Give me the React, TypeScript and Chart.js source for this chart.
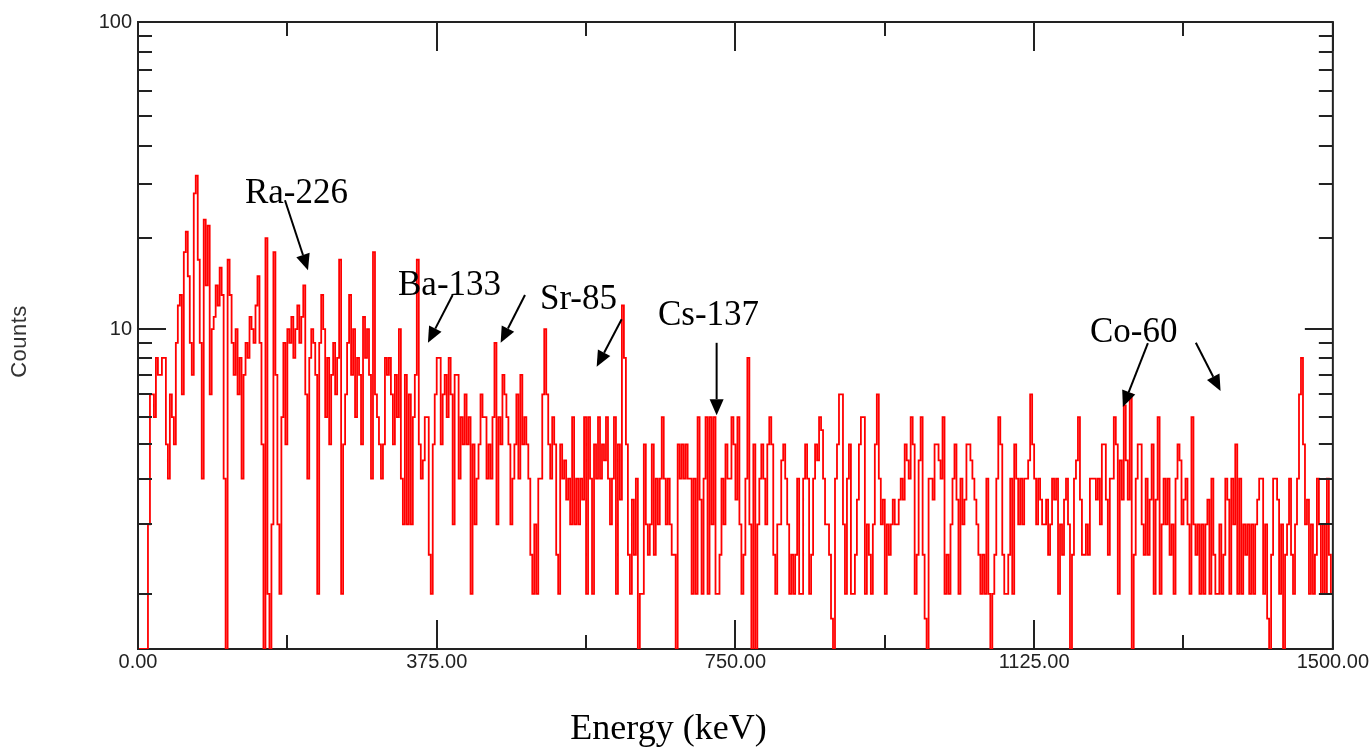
import React, { useEffect, useRef } from 'react';
import { Chart, LinearScale, registerables } from 'chart.js';

// ---------------- data ----------------
const BIN_KEV = 2.5;
const COUNTS: number[] = [
  0, 0, 0, 0, 0, 2, 6, 6, 5, 8,
  7, 7, 8, 8, 4, 3, 6, 5, 4, 9,
  12, 13, 6, 18, 21, 15, 9, 7, 28, 32,
  17, 9, 3, 23, 14, 22, 6, 10, 11, 14,
  12, 16, 13, 3, 0, 17, 13, 9, 7, 10,
  6, 8, 3, 7, 9, 8, 11, 10, 9, 12,
  15, 9, 4, 0, 20, 1, 0, 2, 18, 7,
  2, 1, 5, 9, 4, 10, 9, 11, 8, 10,
  12, 9, 11, 14, 6, 3, 8, 10, 9, 7,
  1, 9, 13, 10, 5, 8, 4, 7, 9, 6,
  8, 17, 1, 4, 6, 9, 13, 7, 10, 5,
  8, 7, 4, 11, 8, 10, 7, 3, 18, 6,
  5, 4, 3, 4, 8, 7, 8, 6, 4, 7,
  5, 10, 3, 2, 7, 2, 6, 2, 5, 7,
  17, 4, 3, 3.5, 5, 5, 1.5, 1, 4, 6,
  8, 8, 4, 6, 7, 5, 8, 6, 2, 7,
  7, 3, 5, 4, 6, 4, 5, 1, 4, 2,
  3, 4, 6, 5, 5, 3, 4, 3, 5, 9,
  2, 5, 4, 7, 6, 5, 4, 2, 3, 4,
  6, 3, 7, 4, 5, 4, 3, 1.5, 1, 2,
  1, 3, 3, 6, 10, 6, 4, 3, 5, 4,
  1.5, 1, 4, 3, 3.5, 2.5, 3, 2, 5, 2,
  3, 2, 3, 2.5, 5, 1, 5, 3, 1, 4,
  3, 5, 3, 4, 3.5, 5, 3, 2, 3, 5,
  1, 4, 2.5, 12, 8, 4, 1.5, 1, 2.5, 1.5,
  3, 0, 1, 1, 4, 2, 1.5, 2, 4, 1.5,
  3, 2, 3, 5, 3, 2, 3, 2, 1.5, 1.5,
  0, 4, 3, 4, 3, 4, 3, 3, 1, 3,
  1, 5, 2.5, 1, 3, 5, 1, 5, 2, 5,
  1, 1, 1.5, 3, 2, 4, 3, 3, 5, 4,
  2.5, 5, 2, 1, 1.5, 3, 8, 2, 0, 4,
  0, 2, 3, 4, 3, 2, 4, 5, 4, 1.5,
  1, 2, 2, 3.5, 4, 3, 2, 1, 1.5, 1,
  1.5, 3, 1, 1, 3, 4, 3, 1, 1.5, 3,
  4, 3.5, 5, 4.5, 3, 2, 2, 1.5, 0.75, 0,
  3, 4, 6, 6, 2, 1, 3, 4, 1, 1,
  1.5, 2.5, 4, 5, 5, 1, 2, 1.5, 1, 2,
  4, 6, 3, 2, 2.5, 1, 2, 1.5, 2, 2.5,
  2, 2, 2.5, 3, 2.5, 4, 3.5, 3, 5, 4,
  1, 1.5, 3.5, 5, 1.5, 0.75, 0, 3, 3, 2.5,
  4, 4, 3.5, 3, 5, 1, 1.5, 1, 2, 3,
  4, 2.5, 1, 3, 2, 2.5, 4, 4, 3.5, 3,
  2.5, 2, 1.5, 1, 1.5, 1, 3, 1, 0, 1,
  1.5, 3, 5, 4, 1.5, 1, 1, 1.5, 3, 1,
  4, 3, 2, 3, 2, 3, 3, 3.5, 6, 4,
  3, 2, 3, 2.5, 2, 2, 2.5, 1.5, 2, 3,
  2.5, 3, 1, 2, 1.5, 2.5, 3, 2, 0, 1.5,
  3, 3.5, 5, 2.5, 1.5, 1.5, 2, 1.5, 3, 3,
  3, 2.5, 3, 2, 4, 4, 2.5, 1.5, 3, 3,
  5, 4, 1, 3.5, 2.5, 5.5, 3.5, 2.5, 6, 0,
  1.5, 3, 4, 4, 2, 1.5, 3, 1.5, 2.5, 4,
  1, 2.5, 5, 1, 2, 3, 2, 3, 1.5, 2,
  1, 3, 4, 3.5, 2, 2.5, 3, 2, 1, 5,
  2, 1.5, 2, 1, 2, 1, 2, 2.5, 1, 3,
  1.5, 1, 1, 2, 1, 1.5, 3, 2.5, 1, 3,
  2, 4, 1, 3, 1, 2, 1.5, 2, 1, 2,
  1, 2, 2.5, 3, 3, 1, 2, 0.75, 0, 1.5,
  3, 3, 2.5, 1, 2, 0, 1.5, 2, 3, 1.5,
  1, 2, 3, 6, 8, 4, 2, 2.5, 1, 2,
  1, 1.5, 3, 2, 1, 2, 1, 3, 1.5, 1,
];

const X_MIN = 0;
const X_MAX = 1500;
const X_TICKS = [0, 187.5, 375, 562.5, 750, 937.5, 1125, 1312.5, 1500];
const X_LABELED = [0, 375, 750, 1125, 1500];
const Y_MIN = 0.5;
const Y_MAX = 100;
const Y_TICKS = [1, 2, 3, 4, 5, 6, 7, 8, 9, 10, 20, 30, 40, 50, 60, 70, 80, 90, 100];
const Y_LABELED = [10, 100];
const X_TITLE = 'Energy (keV)';
const Y_TITLE = 'Counts';

// peak labels: text, anchored (left, baseline) at [keV, counts]
const PEAK_TEXT = ['Ra-226', 'Ba-133', 'Sr-85', 'Cs-137', 'Co-60'];
const PEAK_TEXT_KEV = [134.3, 326.4, 504.6, 652.7, 1195.0];
const PEAK_TEXT_COUNTS = [26.0, 13.0, 11.67, 10.32, 9.05];
// arrows: from [keV, counts] to tip [keV, counts]
const ARROW_FROM_KEV = [184.5, 395.0, 485.8, 607.2, 726.4, 1267.8, 1328.0];
const ARROW_FROM_COUNTS = [26.6, 13.0, 13.0, 10.8, 9.0, 8.98, 9.0];
const ARROW_TO_KEV = [213.4, 364.0, 455.3, 575.8, 726.4, 1236.4, 1359.0];
const ARROW_TO_COUNTS = [15.7, 9.0, 9.0, 7.46, 5.08, 5.43, 6.17];

// ---------------- custom count axis: log10(count + 0.5) ----------------
const OFFSET = 0.5;
class CountsScale extends LinearScale {
  static id = 'counts';
  static defaults = {};
  buildTicks() {
    return Y_TICKS.map((v) => ({ value: v }));
  }
  configure() {
    super.configure();
    (this as any)._f0 = Math.log10(this.min + OFFSET);
    (this as any)._fr = Math.log10(this.max + OFFSET) - (this as any)._f0;
  }
  getPixelForValue(value: number) {
    const v = Math.max(value, this.min);
    return this.getPixelForDecimal((Math.log10(v + OFFSET) - (this as any)._f0) / (this as any)._fr);
  }
  getValueForPixel(pixel: number) {
    return Math.pow(10, (this as any)._f0 + this.getDecimalForPixel(pixel) * (this as any)._fr) - OFFSET;
  }
}

Chart.register(...registerables, CountsScale as any);

const SANS = '"Liberation Sans", Arial, sans-serif';
const SERIF = '"Liberation Serif", "Times New Roman", serif';
const AXIS_COLOR = '#222222';

const framePlugin = {
  id: 'framePlugin',
  beforeDatasetsDraw(chart: any) {
    const { ctx, chartArea: a } = chart;
    ctx.save();
    ctx.strokeStyle = AXIS_COLOR;
    ctx.lineWidth = 2;
    ctx.strokeRect(a.left, a.top, a.right - a.left, a.bottom - a.top);
    ctx.restore();
  },
  afterDatasetsDraw(chart: any) {
    const { ctx, chartArea: a, scales } = chart;
    const xs = scales.x;
    const ys = scales.y;
    ctx.save();
    ctx.strokeStyle = AXIS_COLOR;
    ctx.lineWidth = 2;
    ctx.beginPath();
    X_TICKS.forEach((v) => {
      const px = Math.round(xs.getPixelForValue(v));
      const len = X_LABELED.includes(v) ? 29 : 14;
      ctx.moveTo(px, a.bottom);
      ctx.lineTo(px, a.bottom - len);
      ctx.moveTo(px, a.top);
      ctx.lineTo(px, a.top + len);
    });
    Y_TICKS.forEach((v) => {
      const py = Math.round(ys.getPixelForValue(v));
      const len = Y_LABELED.includes(v) ? 28 : 14;
      ctx.moveTo(a.left, py);
      ctx.lineTo(a.left + len, py);
      ctx.moveTo(a.right, py);
      ctx.lineTo(a.right - len, py);
    });
    ctx.stroke();

    // peak annotations
    ctx.fillStyle = '#000';
    ctx.strokeStyle = '#000';
    ctx.font = `35px ${SERIF}`;
    ctx.textAlign = 'left';
    ctx.textBaseline = 'alphabetic';
    PEAK_TEXT.forEach((t, i) => {
      ctx.fillText(t, xs.getPixelForValue(PEAK_TEXT_KEV[i]), ys.getPixelForValue(PEAK_TEXT_COUNTS[i]));
    });
    ctx.lineWidth = 2;
    ARROW_FROM_KEV.forEach((_, i) => {
      const x0 = xs.getPixelForValue(ARROW_FROM_KEV[i]);
      const y0 = ys.getPixelForValue(ARROW_FROM_COUNTS[i]);
      const x1 = xs.getPixelForValue(ARROW_TO_KEV[i]);
      const y1 = ys.getPixelForValue(ARROW_TO_COUNTS[i]);
      const ang = Math.atan2(y1 - y0, x1 - x0);
      const head = 16;
      const half = 7;
      const bx = x1 - head * Math.cos(ang);
      const by = y1 - head * Math.sin(ang);
      ctx.beginPath();
      ctx.moveTo(x0, y0);
      ctx.lineTo(bx, by);
      ctx.stroke();
      ctx.beginPath();
      ctx.moveTo(x1, y1);
      ctx.lineTo(bx + half * Math.sin(ang), by - half * Math.cos(ang));
      ctx.lineTo(bx - half * Math.sin(ang), by + half * Math.cos(ang));
      ctx.closePath();
      ctx.fill();
    });

    // axis titles
    ctx.font = `36px ${SERIF}`;
    ctx.textAlign = 'center';
    ctx.fillText(X_TITLE, 668.5, 739);

    ctx.translate(20, 341.5);
    ctx.rotate(-Math.PI / 2);
    ctx.font = `22px ${SANS}`;
    (ctx as any).letterSpacing = '0.5px';
    ctx.fillStyle = '#333';
    ctx.textBaseline = 'middle';
    ctx.fillText(Y_TITLE, 0, 0);
    ctx.restore();
  },
};

export default function App() {
  const ref = useRef<HTMLCanvasElement | null>(null);

  useEffect(() => {
    document.body.style.margin = '0';
    const canvas = ref.current;
    if (!canvas) return;
    const points = COUNTS.map((c, i) => ({ x: (i + 0.5) * BIN_KEV, y: c }));
    const chart = new Chart(canvas, {
      type: 'line',
      data: {
        datasets: [
          {
            data: points,
            borderColor: '#ff0000',
            borderWidth: 1.8,
            pointRadius: 0,
            stepped: 'middle',
            fill: false,
            tension: 0,
          },
        ],
      },
      options: {
        animation: false,
        responsive: false,
        events: [],
        layout: { padding: { top: 22, right: 39, left: 0, bottom: 0 } },
        plugins: { legend: { display: false }, tooltip: { enabled: false }, title: { display: false } },
        scales: {
          x: {
            type: 'linear',
            min: X_MIN,
            max: X_MAX,
            grid: { display: false, drawTicks: false },
            border: { display: false },
            afterBuildTicks: (s: any) => {
              s.ticks = X_TICKS.map((v) => ({ value: v }));
            },
            afterFit: (s: any) => {
              s.height = 102;
            },
            ticks: {
              autoSkip: false,
              maxRotation: 0,
              minRotation: 0,
              padding: 3,
              color: AXIS_COLOR,
              font: { family: SANS, size: 20, lineHeight: 1 },
              callback: (v: any) => (X_LABELED.includes(Number(v)) ? Number(v).toFixed(2) : ''),
            },
          },
          y: {
            type: 'counts' as any,
            min: Y_MIN,
            max: Y_MAX,
            grid: { display: false, drawTicks: false },
            border: { display: false },
            afterFit: (s: any) => {
              s.width = 138;
            },
            ticks: {
              autoSkip: false,
              padding: 6,
              color: AXIS_COLOR,
              font: { family: SANS, size: 20, lineHeight: 1 },
              callback: (v: any) => (Y_LABELED.includes(Number(v)) ? String(v) : ''),
            },
          },
        },
      },
      plugins: [framePlugin],
    });
    return () => chart.destroy();
  }, []);

  return (
    <div style={{ position: 'absolute', left: 0, top: 0, width: 1372, height: 751, background: '#fff' }}>
      <canvas ref={ref} width={1372} height={751} style={{ width: 1372, height: 751 }} />
    </div>
  );
}
